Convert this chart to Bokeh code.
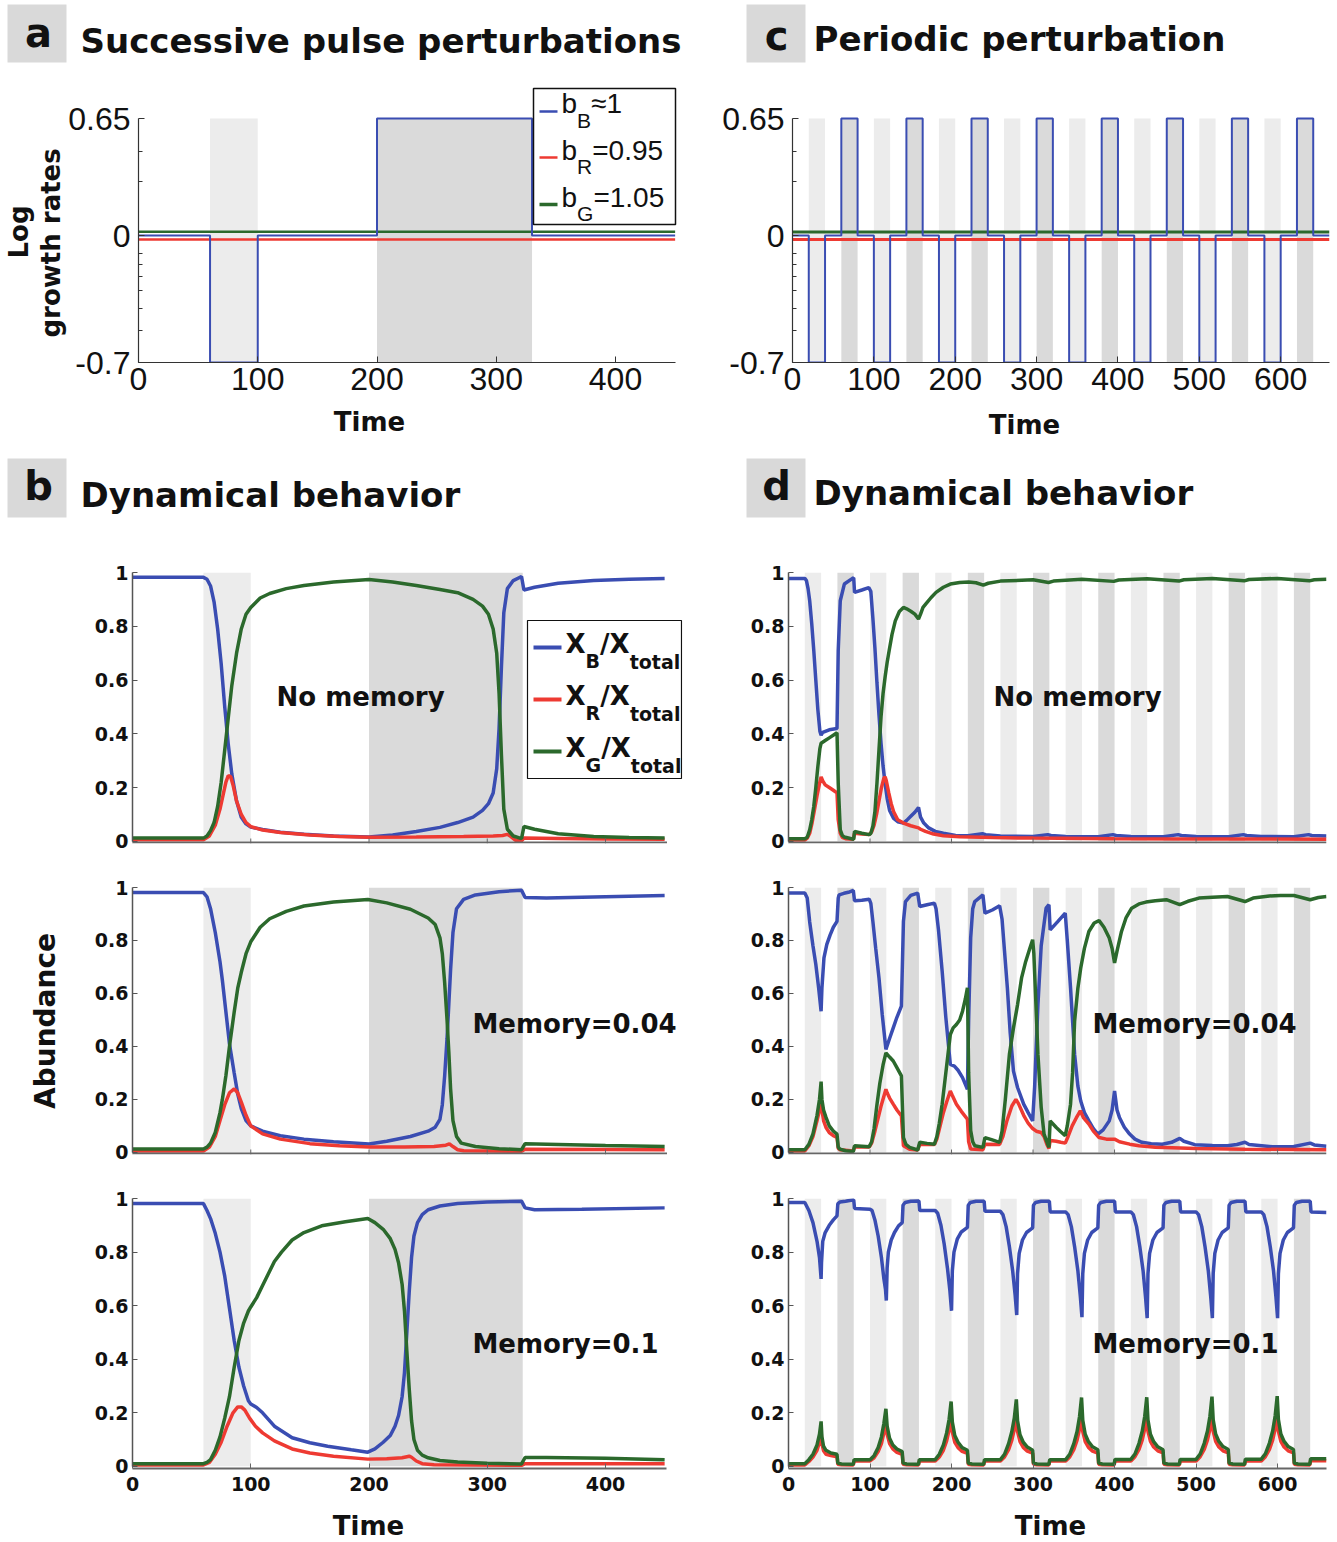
import math
from bokeh.plotting import figure
from bokeh.models import Range1d, FixedTicker, Title
from bokeh.layouts import row, column
from bokeh.embed import file_html
from bokeh.resources import INLINE
from bokeh.core.properties import value

# ======================= DATA =======================
# perturbation windows
a_light_start = [60]
a_light_end = [100]
a_dark_start = [200]
a_dark_end = [330]
p_light_start = [20, 100, 180, 260, 340, 420, 500, 580]
p_light_end = [40, 120, 200, 280, 360, 440, 520, 600]
p_dark_start = [60, 140, 220, 300, 380, 460, 540, 620]
p_dark_end = [80, 160, 240, 320, 400, 480, 560, 640]

# panel a: log growth rates (step, value holds from t[i] to t[i+1])
a_t_B = [0, 60, 100, 200, 330, 450]
a_B = [0.003, -0.7, 0.003, 0.65, 0.003, 0.003]
a_t_R = [0, 450]
a_R = [-0.02, -0.02]
a_t_G = [0, 450]
a_G = [0.024, 0.024]

# panel c: periodic log growth rates
c_t_B = [0, 20, 40, 60, 80, 100, 120, 140, 160, 180, 200, 220, 240, 260, 280, 300, 320,
         340, 360, 380, 400, 420, 440, 460, 480, 500, 520, 540, 560, 580, 600, 620, 640, 660]
c_B = [0.003, -0.7, 0.003, 0.65, 0.003, -0.7, 0.003, 0.65, 0.003, -0.7, 0.003, 0.65,
       0.003, -0.7, 0.003, 0.65, 0.003, -0.7, 0.003, 0.65, 0.003, -0.7, 0.003, 0.65,
       0.003, -0.7, 0.003, 0.65, 0.003, -0.7, 0.003, 0.65, 0.003, 0.003]
c_t_R = [0, 660]
c_R = [-0.02, -0.02]
c_t_G = [0, 660]
c_G = [0.022, 0.022]

legend_a_labels = [("b", "B", "\u22481"), ("b", "R", "=0.95"), ("b", "G", "=1.05")]
legend_b_labels = [("X", "B", "/X", "total"), ("X", "R", "/X", "total"), ("X", "G", "/X", "total")]

# ---- panel b1: no memory ----
b1_tB = [0, 60, 63, 66, 69, 72, 75, 78, 81, 84, 88, 92, 96, 100, 110, 125, 145, 170, 200, 220,
         240, 260, 275, 288, 296, 301, 305, 308, 310, 312, 314, 317, 322, 329, 331, 340, 360, 390, 420, 450]
b1_B = [0.982, 0.982, 0.975, 0.95, 0.89, 0.79, 0.66, 0.5, 0.36, 0.25, 0.15, 0.09, 0.065, 0.053, 0.044,
        0.034, 0.026, 0.02, 0.016, 0.024, 0.037, 0.052, 0.07, 0.09, 0.115, 0.14, 0.18, 0.27, 0.42, 0.65,
        0.85, 0.94, 0.97, 0.985, 0.935, 0.945, 0.96, 0.97, 0.975, 0.978]
b1_tG = [0, 60, 63, 66, 69, 72, 75, 78, 81, 84, 88, 92, 96, 100, 108, 116, 130, 145, 170, 200, 220,
         240, 260, 275, 288, 296, 301, 305, 308, 310, 312, 314, 317, 322, 329, 331, 340, 360, 390, 420, 450]
b1_G = [0.012, 0.012, 0.02, 0.04, 0.07, 0.13, 0.22, 0.34, 0.46, 0.58, 0.7, 0.79, 0.845, 0.87, 0.905,
        0.922, 0.94, 0.952, 0.965, 0.974, 0.965, 0.952, 0.937, 0.925, 0.9, 0.875, 0.845, 0.79, 0.7, 0.55,
        0.32, 0.12, 0.045, 0.02, 0.01, 0.055, 0.045, 0.028, 0.018, 0.014, 0.012]
b1_tR = [0, 60, 65, 70, 74, 77, 79, 81, 83, 85, 88, 92, 96, 100, 110, 125, 150, 175, 200, 240,
         280, 305, 313, 317, 320, 324, 329, 331, 360, 400, 450]
b1_R = [0.006, 0.006, 0.02, 0.06, 0.12, 0.18, 0.22, 0.245, 0.24, 0.21, 0.15, 0.1, 0.07, 0.055, 0.042,
        0.033, 0.024, 0.018, 0.015, 0.016, 0.018, 0.02, 0.022, 0.026, 0.018, 0.004, 0.002, 0.012, 0.011,
        0.009, 0.008]

# ---- panel b2: memory 0.04 ----
b2_tB = [0, 60, 63, 66, 70, 74, 76, 79, 82, 86, 89, 92, 96, 100, 110, 125, 145, 170, 200, 215,
         235, 250, 256, 260, 262, 264, 266, 267.5, 269, 271, 274, 280, 290, 310, 329, 332, 350, 400, 450]
b2_B = [0.981, 0.981, 0.965, 0.92, 0.83, 0.72, 0.65, 0.53, 0.41, 0.3, 0.22, 0.165, 0.12, 0.1, 0.08,
        0.063, 0.05, 0.04, 0.032, 0.042, 0.06, 0.08, 0.095, 0.125, 0.18, 0.29, 0.43, 0.56, 0.69, 0.83,
        0.92, 0.955, 0.972, 0.984, 0.99, 0.962, 0.96, 0.965, 0.97]
b2_tG = [0, 60, 63, 66, 70, 74, 76, 79, 82, 86, 89, 92, 96, 100, 108, 116, 130, 145, 170, 199,
         215, 235, 250, 256, 260, 262, 264, 266, 267.5, 269, 271, 274, 278, 290, 310, 329, 332, 360, 400, 450]
b2_G = [0.013, 0.013, 0.02, 0.035, 0.075, 0.15, 0.2, 0.29, 0.4, 0.53, 0.62, 0.68, 0.75, 0.795, 0.85,
        0.882, 0.91, 0.93, 0.945, 0.955, 0.942, 0.918, 0.885, 0.86, 0.81, 0.75, 0.64, 0.5, 0.38, 0.24,
        0.12, 0.06, 0.035, 0.022, 0.014, 0.01, 0.033, 0.03, 0.026, 0.022]
b2_tR = [0, 60, 65, 70, 74, 78, 82, 86, 89, 92, 96, 100, 110, 125, 150, 175, 200, 230, 255, 265,
         268, 271, 275, 280, 329, 332, 400, 450]
b2_R = [0.005, 0.005, 0.02, 0.06, 0.12, 0.18, 0.225, 0.24, 0.225, 0.19, 0.14, 0.1, 0.07, 0.05, 0.033,
        0.025, 0.02, 0.02, 0.022, 0.027, 0.032, 0.022, 0.01, 0.006, 0.004, 0.012, 0.011, 0.01]

# ---- panel b3: memory 0.1 ----
b3_tB = [0, 60, 63, 66, 70, 74, 78, 82, 86, 90, 94, 98, 100, 105, 110, 120, 135, 150, 165, 185,
         199, 205, 212, 218, 222, 225, 228, 230, 232, 234, 236, 238, 241, 245, 250, 260, 275, 300, 329, 332,
         340, 380, 450]
b3_B = [0.981, 0.981, 0.955, 0.925, 0.87, 0.8, 0.71, 0.59, 0.47, 0.37, 0.3, 0.245, 0.233, 0.22, 0.2,
        0.15, 0.107, 0.088, 0.075, 0.062, 0.053, 0.065, 0.09, 0.115, 0.15, 0.19, 0.26, 0.35, 0.5, 0.65,
        0.78, 0.86, 0.91, 0.94, 0.958, 0.972, 0.981, 0.987, 0.99, 0.965, 0.958, 0.96, 0.965]
b3_tG = [0, 60, 63, 66, 70, 74, 78, 82, 86, 90, 94, 98, 100, 105, 110, 115, 120, 126, 135, 145,
         160, 180, 199, 205, 212, 218, 222, 225, 228, 230, 232, 234, 236, 238, 241, 245, 250, 260, 275, 300,
         329, 332, 350, 400, 450]
b3_G = [0.01, 0.01, 0.015, 0.025, 0.06, 0.11, 0.18, 0.26, 0.37, 0.47, 0.535, 0.58, 0.595, 0.63, 0.675,
        0.72, 0.765, 0.8, 0.845, 0.873, 0.898, 0.913, 0.925, 0.91, 0.885, 0.85, 0.81, 0.76, 0.68, 0.58,
        0.43, 0.29, 0.17, 0.1, 0.06, 0.042, 0.032, 0.022, 0.016, 0.012, 0.009, 0.033, 0.033, 0.03, 0.025]
b3_tR = [0, 60, 65, 70, 75, 80, 85, 89, 92, 95, 99, 104, 110, 120, 135, 150, 170, 199, 215, 228,
         234, 236, 240, 245, 255, 329, 332, 450]
b3_R = [0.005, 0.005, 0.015, 0.045, 0.09, 0.15, 0.2, 0.222, 0.222, 0.21, 0.18, 0.15, 0.125, 0.095,
        0.065, 0.05, 0.038, 0.027, 0.028, 0.032, 0.038, 0.034, 0.02, 0.01, 0.006, 0.004, 0.01, 0.01]

# ---- panel d1: periodic, no memory ----
d1_tB = [0, 20, 22, 24, 26, 28.5, 31, 33.5, 36, 38.5, 40, 42, 50, 59.5, 61, 63.5, 68.5, 78.5, 80, 81,
         90, 98.5, 101, 103.5, 106, 108.5, 111, 113.5, 116, 118.5, 121, 124, 129, 134, 141, 145, 150, 155,
         159.5, 162, 166, 172, 180, 190, 205, 220, 238, 242, 260, 300, 318, 322, 340, 380, 398, 402, 420,
         460, 478, 482, 500, 540, 558, 562, 580, 620, 638, 642, 660]
d1_B = [0.978, 0.978, 0.97, 0.94, 0.895, 0.81, 0.71, 0.6, 0.49, 0.41, 0.395, 0.405, 0.415, 0.42, 0.71,
        0.895, 0.957, 0.978, 0.98, 0.926, 0.935, 0.944, 0.93, 0.83, 0.72, 0.59, 0.47, 0.365, 0.28, 0.215,
        0.16, 0.115, 0.085, 0.073, 0.068, 0.078, 0.093, 0.108, 0.126, 0.09, 0.068, 0.05, 0.037, 0.03,
        0.022, 0.021, 0.028, 0.025, 0.02, 0.018, 0.025, 0.022, 0.018, 0.017, 0.025, 0.022, 0.018, 0.017,
        0.025, 0.022, 0.018, 0.017, 0.025, 0.022, 0.018, 0.017, 0.025, 0.022, 0.02]
d1_tG = [0, 20, 23, 26, 28.5, 31, 33.5, 36, 38.5, 40, 45, 50, 59.5, 61, 63.5, 66, 68.5, 78.5, 80, 81,
         90, 99, 101, 103.5, 106, 108.5, 111, 113.5, 116, 118.5, 121, 123.5, 127, 131, 136, 141, 145, 150,
         155, 159.5, 162, 165, 168.5, 175, 181, 190, 198.5, 210, 221, 230, 239, 245, 260, 300, 319, 325,
         360, 399, 405, 440, 479, 485, 520, 559, 565, 600, 639, 645, 660]
d1_G = [0.01, 0.01, 0.015, 0.043, 0.08, 0.13, 0.2, 0.278, 0.345, 0.365, 0.375, 0.385, 0.404, 0.216,
        0.043, 0.022, 0.016, 0.009, 0.008, 0.037, 0.03, 0.025, 0.03, 0.056, 0.11, 0.216, 0.34, 0.463,
        0.55, 0.611, 0.665, 0.71, 0.77, 0.82, 0.855, 0.87, 0.865, 0.856, 0.845, 0.827, 0.845, 0.87, 0.883,
        0.907, 0.926, 0.945, 0.957, 0.963, 0.965, 0.962, 0.953, 0.96, 0.968, 0.973, 0.963, 0.968, 0.975,
        0.967, 0.972, 0.977, 0.968, 0.973, 0.978, 0.969, 0.974, 0.978, 0.969, 0.973, 0.975]
d1_tR = [0, 20, 23, 26, 29, 32, 35, 38, 40, 42, 45, 50, 55, 59.5, 61, 63.5, 66, 70, 79.5, 81,
         90, 99, 102, 105, 108, 111, 114, 117, 118.5, 120, 123, 126, 129, 134, 141, 150, 159.5, 162, 168,
         178, 190, 210, 250, 300, 400, 500, 660]
d1_R = [0.005, 0.005, 0.012, 0.03, 0.07, 0.12, 0.17, 0.215, 0.24, 0.225, 0.21, 0.2, 0.19, 0.18, 0.08,
        0.03, 0.015, 0.01, 0.008, 0.03, 0.027, 0.025, 0.035, 0.06, 0.1, 0.15, 0.2, 0.235, 0.24, 0.225,
        0.18, 0.14, 0.11, 0.08, 0.068, 0.058, 0.05, 0.045, 0.037, 0.027, 0.021, 0.017, 0.014, 0.012, 0.01,
        0.009, 0.008]

# ---- panel d2: periodic, memory 0.04 ----
d2_tB = [0, 20, 23, 26, 30, 33.5, 37, 40, 41, 43.5, 47, 51, 55, 59.5, 61, 62, 68, 73.5, 79.5, 81,
         90, 99, 101, 103.5, 107, 111, 115, 119.5, 124, 128.5, 133, 138.5, 141, 143.5, 150, 158.5, 161,
         170, 179, 181, 184, 188.5, 193, 198.5, 203.5, 208, 213.5, 219.5, 221, 223.5, 226, 228.5, 238.5,
         241, 250, 259, 262, 265, 268.5, 272, 276, 281, 288.5, 294, 299.5, 302, 306, 310, 316, 319.5, 321,
         330, 339.5, 342, 346, 351, 355, 358.5, 363, 368.5, 374, 379.5, 386, 393.5, 397, 400, 403, 406,
         412, 418.5, 425, 433.5, 445, 458.5, 470, 480, 485, 498.5, 520, 538.5, 550, 560, 565, 593.5, 620,
         640, 645, 660]
d2_B = [0.979, 0.979, 0.96, 0.87, 0.78, 0.71, 0.62, 0.533, 0.62, 0.734, 0.785, 0.82, 0.85, 0.872, 0.96,
        0.972, 0.978, 0.982, 0.989, 0.95, 0.952, 0.956, 0.94, 0.872, 0.77, 0.659, 0.52, 0.389, 0.43, 0.47,
        0.51, 0.552, 0.872, 0.947, 0.97, 0.979, 0.928, 0.935, 0.941, 0.92, 0.84, 0.684, 0.51, 0.332, 0.326,
        0.31, 0.282, 0.238, 0.5, 0.81, 0.92, 0.947, 0.972, 0.903, 0.915, 0.931, 0.88, 0.76, 0.621, 0.45,
        0.307, 0.245, 0.182, 0.15, 0.119, 0.25, 0.558, 0.78, 0.922, 0.935, 0.84, 0.87, 0.903, 0.8, 0.621,
        0.37, 0.25, 0.194, 0.15, 0.119, 0.09, 0.069, 0.085, 0.119, 0.16, 0.232, 0.16, 0.132, 0.095, 0.069,
        0.05, 0.038, 0.033, 0.031, 0.038, 0.053, 0.042, 0.029, 0.026, 0.025, 0.03, 0.038, 0.03, 0.021,
        0.022, 0.035, 0.028, 0.023]
d2_tG = [0, 20, 25, 30, 35, 38, 40, 41, 43, 46, 50, 55, 59.5, 61, 63, 70, 79.5, 81, 90, 99,
         102, 105, 108.5, 112, 116, 119.5, 124, 128.5, 133, 138.5, 141, 144, 148.5, 158.5, 161, 170, 179,
         182, 185, 188.5, 193, 198.5, 202, 206, 210, 213.5, 217, 219.5, 221, 223.5, 226, 228.5, 238.5, 241,
         250, 259, 262, 266, 271, 276, 281, 286, 291, 296, 299.5, 301, 303, 306, 310, 313.5, 319.5, 321,
         328.5, 334, 339.5, 342, 346, 348.5, 351, 355, 358.5, 363, 368.5, 375, 381, 387, 393.5, 397, 400,
         403, 408.5, 414, 421, 430, 438.5, 450, 463.5, 480, 490, 503.5, 520, 538.5, 560, 570, 590, 603.5,
         620, 640, 650, 660]
d2_G = [0.01, 0.01, 0.03, 0.07, 0.14, 0.2, 0.267, 0.2, 0.16, 0.132, 0.1, 0.08, 0.069, 0.02, 0.0125,
        0.006, 0.003, 0.025, 0.023, 0.021, 0.04, 0.09, 0.18, 0.26, 0.33, 0.376, 0.36, 0.345, 0.32, 0.289,
        0.056, 0.03, 0.019, 0.009, 0.038, 0.034, 0.031, 0.06, 0.11, 0.182, 0.3, 0.445, 0.47, 0.483, 0.5,
        0.533, 0.58, 0.621, 0.3, 0.082, 0.04, 0.025, 0.019, 0.056, 0.047, 0.038, 0.08, 0.2, 0.37, 0.47,
        0.558, 0.66, 0.721, 0.77, 0.803, 0.75, 0.6, 0.37, 0.17, 0.069, 0.019, 0.119, 0.094, 0.078, 0.063,
        0.1, 0.182, 0.3, 0.496, 0.62, 0.696, 0.77, 0.834, 0.866, 0.875, 0.85, 0.809, 0.77, 0.715, 0.76,
        0.834, 0.885, 0.922, 0.938, 0.945, 0.95, 0.954, 0.935, 0.948, 0.96, 0.963, 0.966, 0.947, 0.96,
        0.968, 0.97, 0.97, 0.954, 0.962, 0.966]
d2_tR = [0, 20, 25, 30, 35, 38, 40, 41, 43, 46, 50, 55, 59.5, 61, 63, 79.5, 81, 99, 102, 106,
         110, 114, 119.5, 121, 124, 128.5, 133, 138.5, 141, 148.5, 158.5, 161, 179, 182, 186, 190, 194,
         198.5, 201, 206, 212, 219.5, 221, 223.5, 238.5, 241, 259, 263, 268, 274, 279, 282, 288.5, 294,
         299.5, 304, 310, 313.5, 317, 319.5, 321, 328.5, 334, 339.5, 343, 348, 353, 358, 362, 368.5, 374,
         381, 390, 400, 406, 418.5, 430, 450, 500, 560, 660]
d2_R = [0.005, 0.005, 0.025, 0.06, 0.12, 0.16, 0.194, 0.16, 0.12, 0.094, 0.075, 0.063, 0.056, 0.015,
        0.01, 0.005, 0.02, 0.02, 0.035, 0.08, 0.13, 0.18, 0.238, 0.225, 0.205, 0.182, 0.16, 0.138, 0.025,
        0.012, 0.009, 0.03, 0.03, 0.05, 0.1, 0.15, 0.19, 0.232, 0.215, 0.182, 0.155, 0.125, 0.04, 0.0125,
        0.01, 0.031, 0.03, 0.06, 0.12, 0.175, 0.2, 0.185, 0.14, 0.11, 0.09, 0.08, 0.075, 0.06, 0.03, 0.015,
        0.045, 0.042, 0.038, 0.035, 0.06, 0.1, 0.13, 0.157, 0.13, 0.107, 0.08, 0.056, 0.05, 0.05, 0.04,
        0.031, 0.025, 0.019, 0.015, 0.012, 0.01]

# ---- panel d3: periodic, memory 0.1 ----
d3_tB = [0, 20, 25, 30, 35, 38, 40, 40.5, 42, 45, 50, 55, 59.5, 60.5, 63, 70, 80, 81, 100,
         102.5, 106, 110, 114, 117, 119, 120, 121, 122.5, 126, 130, 135, 139.5, 140.5, 143, 150, 160, 161, 180,
         183, 187, 191, 195, 198, 200, 201, 203, 207, 212, 219.5, 220.5, 223, 230, 240, 241, 260,
         263, 267, 271, 275, 278, 280, 281, 283, 287, 292, 299.5, 300.5, 303, 310, 320, 321, 340,
         343, 347, 351, 355, 358, 360, 361, 363, 367, 372, 379.5, 380.5, 383, 390, 400, 401, 420,
         423, 427, 431, 435, 438, 440, 441, 443, 447, 452, 459.5, 460.5, 463, 470, 480, 481, 500,
         503, 507, 511, 515, 518, 520, 521, 523, 527, 532, 539.5, 540.5, 543, 550, 560, 561, 580,
         583, 587, 591, 595, 598, 600, 601, 603, 607, 612, 619.5, 620.5, 623, 630, 640, 641, 660]
d3_B = [0.985, 0.985, 0.955, 0.91, 0.84, 0.78, 0.70, 0.76, 0.84, 0.873, 0.90, 0.92, 0.935, 0.98, 0.987, 0.99, 0.995, 0.963, 0.96,
        0.955, 0.92, 0.86, 0.78, 0.70, 0.66, 0.619, 0.74, 0.80, 0.845, 0.873, 0.898, 0.91, 0.975, 0.985, 0.99, 0.991, 0.955, 0.955,
        0.945, 0.90, 0.83, 0.74, 0.655, 0.581, 0.73, 0.80, 0.848, 0.875, 0.892, 0.975, 0.985, 0.99, 0.99, 0.952, 0.952,
        0.94, 0.895, 0.82, 0.73, 0.64, 0.565, 0.72, 0.795, 0.845, 0.873, 0.89, 0.975, 0.985, 0.99, 0.99, 0.95, 0.95,
        0.94, 0.895, 0.82, 0.73, 0.635, 0.557, 0.72, 0.795, 0.845, 0.873, 0.89, 0.975, 0.985, 0.99, 0.99, 0.95, 0.95,
        0.94, 0.895, 0.82, 0.73, 0.632, 0.553, 0.72, 0.795, 0.845, 0.873, 0.89, 0.975, 0.985, 0.99, 0.99, 0.95, 0.95,
        0.94, 0.895, 0.82, 0.73, 0.632, 0.553, 0.72, 0.795, 0.845, 0.873, 0.89, 0.975, 0.985, 0.99, 0.99, 0.95, 0.95,
        0.94, 0.895, 0.82, 0.73, 0.632, 0.553, 0.72, 0.795, 0.845, 0.873, 0.89, 0.975, 0.985, 0.99, 0.99, 0.95, 0.948]
d3_tG = [0, 20, 25, 30, 35, 38, 40, 41, 43, 46, 52, 59.5, 60.5, 65, 79.5, 80.5, 100,
         105, 110, 114, 117, 119.5, 121, 124, 128, 133, 139.5, 140.5, 145, 159.5, 160.5, 180,
         185, 190, 194, 197, 199.5, 201, 204, 208, 213, 219.5, 220.5, 225, 239.5, 240.5, 260,
         265, 270, 274, 277, 279.5, 281, 284, 288, 293, 299.5, 300.5, 305, 319.5, 320.5, 340,
         345, 350, 354, 357, 359.5, 361, 364, 368, 373, 379.5, 380.5, 385, 399.5, 400.5, 420,
         425, 430, 434, 437, 439.5, 441, 444, 448, 453, 459.5, 460.5, 465, 479.5, 480.5, 500,
         505, 510, 514, 517, 519.5, 521, 524, 528, 533, 539.5, 540.5, 545, 559.5, 560.5, 580,
         585, 590, 594, 597, 599.5, 601, 604, 608, 613, 619.5, 620.5, 625, 639.5, 640.5, 660]
d3_G = [0.01, 0.01, 0.025, 0.045, 0.08, 0.12, 0.168, 0.11, 0.075, 0.06, 0.05, 0.045, 0.012, 0.009, 0.008, 0.025, 0.025,
        0.04, 0.07, 0.11, 0.16, 0.215, 0.15, 0.105, 0.08, 0.065, 0.055, 0.012, 0.009, 0.008, 0.025, 0.025,
        0.045, 0.08, 0.125, 0.175, 0.242, 0.165, 0.115, 0.09, 0.07, 0.06, 0.012, 0.009, 0.008, 0.025, 0.025,
        0.045, 0.085, 0.13, 0.18, 0.25, 0.17, 0.118, 0.09, 0.072, 0.06, 0.012, 0.009, 0.008, 0.025, 0.025,
        0.045, 0.085, 0.13, 0.185, 0.257, 0.172, 0.12, 0.092, 0.073, 0.062, 0.012, 0.009, 0.008, 0.026, 0.026,
        0.046, 0.086, 0.132, 0.186, 0.258, 0.173, 0.12, 0.092, 0.073, 0.062, 0.012, 0.009, 0.008, 0.026, 0.026,
        0.046, 0.086, 0.132, 0.187, 0.26, 0.174, 0.121, 0.093, 0.074, 0.063, 0.012, 0.009, 0.008, 0.027, 0.027,
        0.047, 0.087, 0.133, 0.188, 0.262, 0.175, 0.121, 0.093, 0.074, 0.063, 0.012, 0.009, 0.008, 0.028, 0.028]
d3_tR = d3_tG
d3_R = [0.005, 0.005, 0.018, 0.035, 0.06, 0.09, 0.13, 0.085, 0.058, 0.045, 0.04, 0.036, 0.008, 0.006, 0.005, 0.02, 0.02,
        0.032, 0.055, 0.085, 0.125, 0.175, 0.12, 0.085, 0.065, 0.052, 0.045, 0.008, 0.006, 0.005, 0.02, 0.02,
        0.035, 0.06, 0.095, 0.135, 0.185, 0.128, 0.09, 0.07, 0.056, 0.048, 0.008, 0.006, 0.005, 0.02, 0.02,
        0.035, 0.062, 0.098, 0.138, 0.19, 0.13, 0.092, 0.071, 0.057, 0.049, 0.008, 0.006, 0.005, 0.02, 0.02,
        0.035, 0.062, 0.098, 0.139, 0.191, 0.13, 0.092, 0.071, 0.057, 0.049, 0.008, 0.006, 0.005, 0.02, 0.02,
        0.036, 0.063, 0.099, 0.14, 0.192, 0.131, 0.093, 0.072, 0.058, 0.05, 0.008, 0.006, 0.005, 0.02, 0.02,
        0.036, 0.063, 0.099, 0.14, 0.192, 0.131, 0.093, 0.072, 0.058, 0.05, 0.008, 0.006, 0.005, 0.02, 0.02,
        0.036, 0.063, 0.099, 0.14, 0.193, 0.131, 0.093, 0.072, 0.058, 0.05, 0.008, 0.006, 0.005, 0.021, 0.021]

# tick values / labels
a_xticks = [0, 100, 200, 300, 400]
p_xticks = [0, 100, 200, 300, 400, 500, 600]
gr_yticks = [-0.7, 0, 0.65]
gr_ylabels = ["-0.7", "0", "0.65"]
gr_minor = [0.47, 0.30, -0.095, -0.16, -0.225, -0.30, -0.40, -0.525]
ab_yticks = [0, 0.2, 0.4, 0.6, 0.8, 1]
ab_ylabels = ["0", "0.2", "0.4", "0.6", "0.8", "1"]

# ======================= STYLE / LAYOUT =======================
BLUE = "#3a4db2"
RED = "#ee3a32"
GREEN = "#2b692c"
LIGHT = "#ececec"
DARK = "#dadada"
BOXGRAY = "#d9d9d9"
TXT = "#111111"
DJ = "DejaVu Sans"
LS = "Liberation Sans"
LW_AB = 3.5
BASE_SHIFT = 0.36   # measured offset of the alphabetic baseline of text glyphs (em)

LEFT_X0, LW = 0, 698
RIGHT_X0, RW = 698, 637
# (top, height) of each layout row, in page pixels
ROWS = [(0, 78), (78, 330), (408, 40), (448, 92), (540, 318), (858, 314), (1172, 335), (1507, 34)]


def base_fig(W, H, bl, br, bt, bb, xr, yr, axes=True):
    kw = dict(width=W, height=H, x_range=Range1d(*xr), y_range=Range1d(*yr),
              output_backend="svg", toolbar_location=None, frame_align=False,
              min_border_left=bl, min_border_right=br,
              min_border_top=bt, min_border_bottom=bb)
    if not axes:
        kw.update(x_axis_type=None, y_axis_type=None)
    p = figure(**kw)
    p.outline_line_color = None
    p.background_fill_color = "white"
    p.border_fill_color = "white"
    p.grid.visible = False
    fw = W - bl - br
    fh = H - bt - bb
    p.extra_x_ranges = {"px": Range1d(0, fw)}
    p.extra_y_ranges = {"py": Range1d(fh, 0)}
    return p, fw, fh


def ptext(p, x, y, s, size, bold=True, font=DJ, align="left"):
    # y is the wanted alphabetic baseline in frame pixels (from the top)
    p.text(x=[x], y=[y - BASE_SHIFT * size], text=[s], x_range_name="px", y_range_name="py",
           text_font=value(font), text_font_style="bold" if bold else "normal",
           text_font_size=f"{size}px", text_align=align, text_baseline="alphabetic",
           text_color=TXT)


def side_title(p, s, size, where, align="center", offset=0, standoff=None):
    t = Title(text=s, align=align, offset=offset, text_font=DJ, text_font_style="bold",
              text_font_size=f"{size}px", text_color=TXT)
    if standoff is not None:
        try:
            t.standoff = standoff
        except Exception:
            pass
    p.add_layout(t, where)


def text_fig(x0, W, rowi, items):
    y0, H = ROWS[rowi]
    p, _, _ = base_fig(W, H, 0, 0, 0, 0, (0, W), (H, 0), axes=False)
    for (cx, by, s, size) in items:
        ptext(p, cx - x0, by - y0, s, size, align="center")
    return p


def title_fig(x0, W, rowi, letter, lxy, box, title, txy):
    y0, H = ROWS[rowi]
    p, _, _ = base_fig(W, H, 0, 0, 0, 0, (0, W), (H, 0), axes=False)
    p.quad(left=[box[0] - x0], right=[box[1] - x0], top=[box[2] - y0], bottom=[box[3] - y0],
           x_range_name="px", y_range_name="py", fill_color=BOXGRAY, line_color=None)
    ptext(p, lxy[0] - x0, lxy[1] - y0, letter, 40, align="center")
    ptext(p, txy[0] - x0, txy[1] - y0, title, 34)
    return p


def growth_panel(x0, W, fx, xr, xticks, xbound, light, dark, series):
    y0, H = ROWS[1]
    fy = (86, 362)
    ytop = 0.65 + (118 - 86) * 1.35 / 244.0
    p, fw, fh = base_fig(W, H, fx[0] - x0, x0 + W - fx[1], fy[0] - y0, y0 + H - fy[1], xr, (-0.7, ytop))
    p.quad(left=light[0], right=light[1], bottom=-0.7, top=0.65, fill_color=LIGHT, line_color=None)
    p.quad(left=dark[0], right=dark[1], bottom=-0.7, top=0.65, fill_color=DARK, line_color=None)
    for (t, v, col, lw) in series:
        p.step(t, v, mode="after", line_color=col, line_width=lw)
    xa = p.xaxis[0]
    ya = p.yaxis[0]
    for ax in (xa, ya):
        ax.axis_line_color = "#333333"
        ax.axis_line_width = 1.2
        ax.major_tick_line_color = "#333333"
        ax.major_tick_in = 6
        ax.major_tick_out = 0
        ax.minor_tick_in = 4
        ax.minor_tick_out = 0
        ax.major_label_text_font = LS
        ax.major_label_text_font_size = "32px"
        ax.major_label_text_color = TXT
    xa.ticker = FixedTicker(ticks=xticks)
    xa.minor_tick_line_color = None
    xa.bounds = (0, xbound)
    xa.major_label_standoff = 5
    ya.ticker = FixedTicker(ticks=gr_yticks, minor_ticks=gr_minor)
    ya.major_label_overrides = dict(zip(gr_yticks, gr_ylabels))
    ya.minor_tick_line_color = "#333333"
    ya.bounds = (-0.7, 0.65)
    ya.major_label_standoff = 8
    return p


def abund_panel(x0, W, rowi, fx, fy, xr, xticks, xbound, light, dark, B, R, G, show_x):
    y0, H = ROWS[rowi]
    p, fw, fh = base_fig(W, H, fx[0] - x0, x0 + W - fx[1], fy[0] - y0, y0 + H - fy[1], xr, (-0.008, 1.0))
    p.quad(left=light[0], right=light[1], bottom=0, top=1, fill_color=LIGHT, line_color=None)
    p.quad(left=dark[0], right=dark[1], bottom=0, top=1, fill_color=DARK, line_color=None)
    p.line(B[0], B[1], line_color=BLUE, line_width=LW_AB)
    p.line(R[0], R[1], line_color=RED, line_width=LW_AB)
    p.line(G[0], G[1], line_color=GREEN, line_width=LW_AB)
    xa = p.xaxis[0]
    ya = p.yaxis[0]
    for ax in (xa, ya):
        ax.major_tick_in = 5
        ax.major_tick_out = 0
        ax.minor_tick_line_color = None
        ax.major_label_text_font = DJ
        ax.major_label_text_font_style = "bold"
        ax.major_label_text_font_size = "19px"
        ax.major_label_text_color = TXT
    ya.axis_line_color = "#555555"
    ya.axis_line_width = 1.5
    ya.major_tick_line_color = "#555555"
    ya.ticker = FixedTicker(ticks=ab_yticks)
    ya.major_label_overrides = dict(zip(ab_yticks, ab_ylabels))
    ya.bounds = (0, 1)
    ya.major_label_standoff = 4
    if show_x:
        xa.axis_line_color = "#666666"
        xa.axis_line_width = 2
        xa.major_tick_line_color = "#666666"
        xa.ticker = FixedTicker(ticks=xticks)
        xa.bounds = (0, xbound)
        xa.major_label_standoff = 8
    else:
        # unlabeled time axis: baseline and inner ticks drawn in frame-pixel y
        xa.visible = False
        p.segment(x0=[0], x1=[xbound], y0=[fh - 1], y1=[fh - 1], y_range_name="py",
                  line_color="#666666", line_width=2)
        p.segment(x0=xticks, x1=xticks, y0=[fh] * len(xticks), y1=[fh - 5] * len(xticks),
                  y_range_name="py", line_color="#666666", line_width=1)
    return p


# ======================= BUILD =======================
tA = title_fig(LEFT_X0, LW, 0, "a", (38, 47), (7, 66, 4, 62), "Successive pulse perturbations", (80, 53))
tC = title_fig(RIGHT_X0, RW, 0, "c", (776, 50), (746, 805, 4, 62), "Periodic perturbation", (813, 51))
tB = title_fig(LEFT_X0, LW, 3, "b", (38, 500), (7, 66, 458, 517), "Dynamical behavior", (80, 507))
tD = title_fig(RIGHT_X0, RW, 3, "d", (776, 500), (746, 805, 458, 517), "Dynamical behavior", (813, 505))

# panel a
FXa = (138, 677)
pa = growth_panel(LEFT_X0, LW, FXa, (0, (FXa[1] - FXa[0]) / 1.1925), a_xticks, 450,
                  (a_light_start, a_light_end), (a_dark_start, a_dark_end),
                  [(a_t_R, a_R, RED, 2.5), (a_t_G, a_G, GREEN, 2.5), (a_t_B, a_B, BLUE, 2)])
side_title(pa, "growth rates", 26, "left", align="left", offset=362 - 337, standoff=0)
side_title(pa, "Log", 26, "left", align="left", offset=362 - 258, standoff=0)

# legend a (frame-pixel coordinates; frame origin = (138, 86))
ox, oy = FXa[0], 86
pa.quad(left=[533 - ox], right=[675 - ox], top=[88 - oy], bottom=[224 - oy],
        x_range_name="px", y_range_name="py", fill_color="white", line_color="#111111", line_width=1.5)
leg_cols = [BLUE, RED, GREEN]
leg_lw = [2.5, 2.5, 3.5]
sw_y = [111, 157, 204]
base_y = [113, 160, 207]
sub_y = [128, 174, 221]
sub_w = {"B": 0.667, "R": 0.722, "G": 0.778}
for i, (m, s, r) in enumerate(legend_a_labels):
    pa.segment(x0=[539 - ox], y0=[sw_y[i] - oy], x1=[557 - ox], y1=[sw_y[i] - oy],
               x_range_name="px", y_range_name="py", line_color=leg_cols[i], line_width=leg_lw[i])
    xb = 561 - ox
    ptext(pa, xb, base_y[i] - oy, m, 28, bold=False, font=LS)
    xs = xb + 0.556 * 28
    ptext(pa, xs, sub_y[i] - oy, s, 21, bold=False, font=LS)
    ptext(pa, xs + sub_w[s] * 21, base_y[i] - oy, r, 28, bold=False, font=LS)

# panel c
FXc = (792, 1329)
pc = growth_panel(RIGHT_X0, RW, FXc, (0, 660), p_xticks, 660,
                  (p_light_start, p_light_end), (p_dark_start, p_dark_end),
                  [(c_t_R, c_R, RED, 3), (c_t_G, c_G, GREEN, 3), (c_t_B, c_B, BLUE, 2)])

# "Time" rows under a / c
timeA = text_fig(LEFT_X0, LW, 2, [(369, 431, "Time", 26)])
timeC = text_fig(RIGHT_X0, RW, 2, [(1024, 434, "Time", 26)])

# panels b
FXb = (132, 682)
xr_b = (0, (FXb[1] - FXb[0]) / 1.1825)
FY = [(572, 843), (887, 1154), (1198, 1468)]
b_series = [((b1_tB, b1_B), (b1_tR, b1_R), (b1_tG, b1_G)),
            ((b2_tB, b2_B), (b2_tR, b2_R), (b2_tG, b2_G)),
            ((b3_tB, b3_B), (b3_tR, b3_R), (b3_tG, b3_G))]
b_figs = []
for i in range(3):
    B, R, G = b_series[i]
    b_figs.append(abund_panel(LEFT_X0, LW, 4 + i, FXb, FY[i], xr_b, a_xticks, 452,
                              (a_light_start, a_light_end), (a_dark_start, a_dark_end), B, R, G, i == 2))

# panels d
FXd = (788, 1326)
d_series = [((d1_tB, d1_B), (d1_tR, d1_R), (d1_tG, d1_G)),
            ((d2_tB, d2_B), (d2_tR, d2_R), (d2_tG, d2_G)),
            ((d3_tB, d3_B), (d3_tR, d3_R), (d3_tG, d3_G))]
d_figs = []
for i in range(3):
    B, R, G = d_series[i]
    d_figs.append(abund_panel(RIGHT_X0, RW, 4 + i, FXd, FY[i], (0, 660), p_xticks, 660,
                              (p_light_start, p_light_end), (p_dark_start, p_dark_end), B, R, G, i == 2))

annot = ["No memory", "Memory=0.04", "Memory=0.1"]
ann_base = [706, 1033, 1353]
for i in range(3):
    ptext(b_figs[i], (276 if i == 0 else 472) - FXb[0], ann_base[i] - FY[i][0], annot[i], 26)
    ptext(d_figs[i], (993 if i == 0 else 1092) - FXd[0], ann_base[i] - FY[i][0], annot[i], 26)

# legend b (frame origin (132, 572))
pb1 = b_figs[0]
ox, oy = FXb[0], FY[0][0]
pb1.quad(left=[527 - ox], right=[681 - ox], top=[620 - oy], bottom=[778 - oy],
         x_range_name="px", y_range_name="py", fill_color="white", line_color="#111111", line_width=1.2)
swb_y = [647, 699, 751]
mb_y = [653, 705, 757]
sb_y = [667, 719, 771]
dj_sub = {"B": 0.763, "R": 0.771, "G": 0.821}
for i, (m, s, m2, s2) in enumerate(legend_b_labels):
    pb1.segment(x0=[533 - ox], y0=[swb_y[i] - oy], x1=[561 - ox], y1=[swb_y[i] - oy],
                x_range_name="px", y_range_name="py", line_color=leg_cols[i], line_width=4)
    xm = 565 - ox
    ptext(pb1, xm, mb_y[i] - oy, m, 26)
    xs = xm + 0.774 * 26
    ptext(pb1, xs, sb_y[i] - oy, s, 19)
    x2 = xs + dj_sub[s] * 19
    ptext(pb1, x2, mb_y[i] - oy, m2, 26)
    ptext(pb1, x2 + (0.365 + 0.774) * 26, sb_y[i] - oy + 1, s2, 19)

# axis title for abundance
ya2 = b_figs[1].yaxis[0]
ya2.axis_label = "Abundance"
ya2.axis_label_text_font = DJ
ya2.axis_label_text_font_style = "bold"
ya2.axis_label_text_font_size = "28px"
ya2.axis_label_text_color = TXT
ya2.axis_label_standoff = 30

# "Time" rows under b3 / d3
timeB = text_fig(LEFT_X0, LW, 7, [(368, 1535, "Time", 26)])
timeD = text_fig(RIGHT_X0, RW, 7, [(1050, 1535, "Time", 26)])

left = column(tA, pa, timeA, tB, *b_figs, timeB)
right = column(tC, pc, timeC, tD, *d_figs, timeD)
layout = row(left, right)

open("out.html", "w").write(file_html(layout, INLINE))
